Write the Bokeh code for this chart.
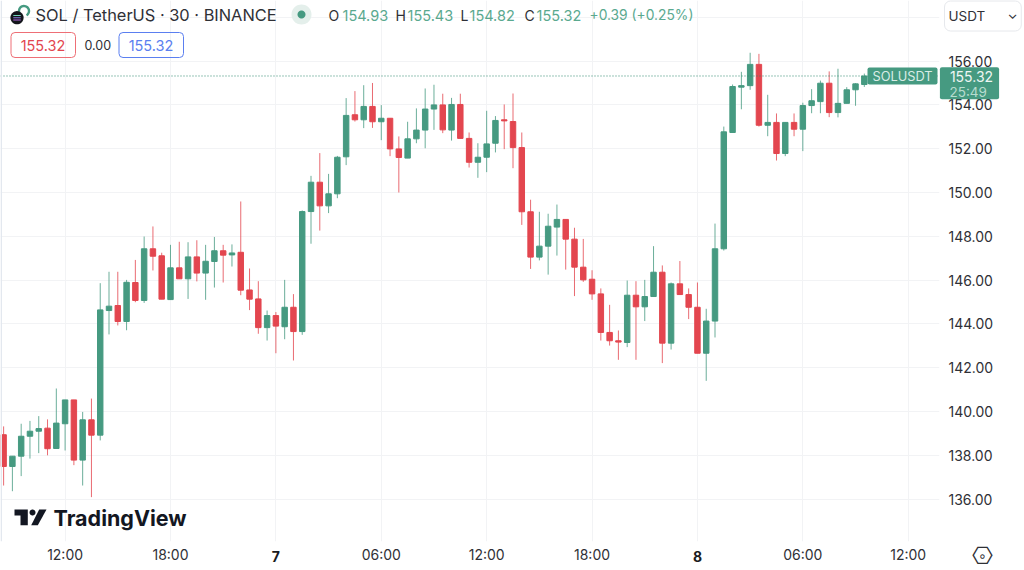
import numpy as np
from bokeh.embed import file_html
from bokeh.resources import INLINE
from bokeh.plotting import figure
from bokeh.models import (Range1d, FixedTicker, LinearAxis, Label, BoxAnnotation,
                          PolyAnnotation, ColumnDataSource, Grid)

opens = [138.94,137.49,137.96,138.87,139.10,139.24,138.31,139.44,140.53,137.78,139.62,138.92,
 144.61,144.84,144.11,145.89,145.07,147.43,147.11,145.11,146.56,146.06,147.06,146.32,146.85,147.34,147.15,147.27,145.55,145.14,143.83,144.38,143.87,144.76,143.65,
 149.13,150.47,149.39,149.94,
 151.63,153.55,153.32,153.93,153.23,153.39,151.99,151.57,152.45,152.85,153.81,154.00,152.85,154.02,152.47,151.38,151.61,152.25,153.32,153.24,152.05,
 149.12,147.05,147.55,148.42,148.77,147.87,146.59,146.04,145.37,143.61,143.23,143.15,145.31,144.78,145.25,146.36,143.12,145.83,145.34,144.76,142.66,144.13,147.43,
 152.74,154.81,154.88,155.85,153.07,153.20,151.78,153.20,152.89,153.97,154.15,154.99,153.65,154.07,154.69,154.93]
closes = [137.49,137.96,138.87,139.10,139.22,138.30,139.47,140.53,137.78,139.62,138.92,144.64,
 144.81,144.11,145.90,145.07,147.43,147.09,145.13,146.56,146.06,147.06,146.32,146.86,147.34,147.14,147.24,145.54,145.13,143.83,144.38,143.90,144.76,143.65,149.13,
 150.47,149.39,149.94,151.61,
 153.52,153.32,153.93,153.23,153.39,151.99,151.60,152.45,152.85,153.81,154.00,152.86,154.02,152.47,151.38,151.61,152.22,153.29,153.27,152.05,149.12,
 147.05,147.55,148.46,148.77,147.87,146.59,146.01,145.37,143.61,143.23,143.17,145.31,144.78,145.25,146.36,143.12,145.83,145.34,144.76,142.66,144.13,147.43,152.77,
 154.84,154.88,155.85,153.07,153.20,151.78,153.20,152.89,153.97,154.19,154.99,153.65,154.07,154.69,154.96,155.32]
highs = [139.32,137.96,139.44,139.57,139.79,139.64,141.05,140.53,140.53,139.98,140.59,145.86,
 146.38,146.38,146.01,146.92,147.99,148.45,147.25,147.61,147.75,147.73,147.82,147.61,147.97,147.61,147.63,149.59,146.53,145.95,144.61,144.54,146.01,145.36,149.18,
 150.76,151.80,150.85,151.67,
 154.31,154.63,154.90,155.00,153.99,153.39,152.56,153.23,153.84,154.75,154.92,154.51,154.32,154.51,152.74,152.25,153.73,153.49,154.02,154.52,152.74,
 149.67,149.12,149.03,149.45,148.77,148.39,147.88,146.45,145.62,144.87,143.70,145.98,145.95,146.01,147.55,146.67,145.89,146.87,145.62,145.89,144.69,148.58,153.01,
 154.93,155.51,156.38,156.33,154.46,153.61,153.20,153.61,154.10,154.72,155.11,155.53,155.65,154.81,154.99,155.43]
lows = [136.62,136.36,137.05,137.85,138.10,138.00,138.31,138.22,137.55,136.62,136.09,138.68,
 143.52,143.93,143.71,144.99,144.96,146.44,145.13,145.10,146.06,145.14,145.94,145.10,145.66,145.89,146.62,145.31,144.63,143.55,143.24,142.66,143.30,142.33,143.50,
 147.66,148.26,149.06,149.74,
 151.25,153.24,152.94,152.95,152.39,151.66,150.00,151.57,152.25,152.02,152.86,152.71,152.37,152.47,151.14,150.67,150.93,151.83,151.98,151.11,148.52,
 146.51,146.90,146.25,147.12,146.48,145.27,145.92,145.10,143.24,143.01,142.36,142.94,142.36,144.13,145.25,142.21,142.83,145.34,144.22,142.66,141.40,143.38,147.35,
 152.74,153.80,154.69,153.01,152.57,151.46,151.66,152.57,151.89,153.62,153.62,153.44,153.43,154.07,153.96,154.82]
first_bar = -7            # bars are counted from the first 12:00 tick
time_ticks = [0, 12, 24, 36, 48, 60, 72, 84, 96]
time_labels = ["12:00", "18:00", "7", "06:00", "12:00", "18:00", "8", "06:00", "12:00"]
bold_labels = {"7", "8"}
price_ticks = [136, 138, 140, 142, 144, 146, 148, 150, 152, 154, 156, 158]
last_price = 155.32

GREEN, RED, BLUE, INK, GRID = "#469a81", "#e3464f", "#5b7ff0", "#2f3036", "#f2f3f5"
FONT = "Inter"
W, H = 1024, 570
FRAME_H = 541
X0, X1 = -7.355, 99.56

p = figure(width=W, height=H, frame_width=939, frame_height=FRAME_H, min_border=0,
           min_border_right=85, min_border_bottom=29,
           x_range=Range1d(X0, X1), y_range=Range1d(134.064, 158.767),
           x_axis_type=None, y_axis_type=None, toolbar_location=None,
           output_backend="svg", margin=0, outline_line_color=None,
           background_fill_color="white", border_fill_color="white")

x_ax = LinearAxis(ticker=FixedTicker(ticks=time_ticks),
                  major_label_overrides={t: ("" if l in bold_labels else l) for t, l in zip(time_ticks, time_labels)})
y_ax = LinearAxis(ticker=FixedTicker(ticks=price_ticks),
                  major_label_overrides={t: ("" if t == 158 else f"{t:.2f}") for t in price_ticks})
for ax in (x_ax, y_ax):
    ax.axis_line_color = None
    ax.major_tick_line_color = None
    ax.minor_tick_line_color = None
    ax.major_tick_in = 0
    ax.major_tick_out = 0
    ax.major_label_text_font = FONT
    ax.major_label_text_font_size = "14px"
    ax.major_label_text_color = INK
x_ax.major_label_standoff = 4
y_ax.major_label_standoff = 9
p.add_layout(x_ax, "below")
p.add_layout(y_ax, "right")
p.add_layout(Grid(dimension=0, ticker=FixedTicker(ticks=time_ticks), grid_line_color=GRID, grid_line_width=1))
p.add_layout(Grid(dimension=1, ticker=FixedTicker(ticks=price_ticks), grid_line_color=GRID, grid_line_width=1))

x = np.arange(first_bar, first_bar + len(opens))
colors = [GREEN if c >= o else RED for o, c in zip(opens, closes)]
src = ColumnDataSource(dict(x=x, o=opens, c=closes, h=highs, l=lows, col=colors))
p.segment("x", "h", "x", "l", color="col", source=src, line_width=1, line_alpha=0.8)
p.vbar("x", width=0.62, top="o", bottom="c", fill_color="col", line_color="col", line_width=1, source=src)

p.segment([X0], [last_price], [X1], [last_price], line_color="#2f8a70", line_width=1, line_dash="1 2")


def text(t, x_, y_, size, color=INK, align="left", style="normal", **kw):
    p.add_layout(Label(x=x_, y=y_, x_units="canvas", y_units="canvas", text=t, text_font=FONT,
                       text_font_size=f"{size}px", text_color=color, text_align=align,
                       text_baseline="middle", text_font_style=style, **kw), "right")


def box(l, r, t, b, fill=None, line=None, radius=3):
    p.add_layout(BoxAnnotation(left=l, right=r, top=t, bottom=b, left_units="canvas", right_units="canvas",
                               top_units="canvas", bottom_units="canvas",
                               fill_color=fill or "white", fill_alpha=1 if fill else 0,
                               line_color=line or fill, line_alpha=1 if line else 0, line_width=1,
                               border_radius=radius), "right")


def poly(px, py, fill=None, line=None, lw=1):
    p.add_layout(PolyAnnotation(xs=list(px), ys=list(py), xs_units="canvas", ys_units="canvas",
                                fill_color=fill or "white", fill_alpha=1 if fill else 0,
                                line_color=line or fill, line_alpha=1 if line else 0, line_width=lw), "right")


def circle(cx, cy, r, fill=None, line=None, lw=1):
    a = np.linspace(0, 2 * np.pi, 37)[:-1]
    poly(cx + r * np.cos(a), cy + r * np.sin(a), fill, line, lw)


def arc(cx, cy, r0, r1, a0, a1, fill):
    a = np.radians(np.linspace(a0, a1, 25))
    poly(np.r_[cx + r1 * np.cos(a), cx + r0 * np.cos(a[::-1])],
         np.r_[cy + r1 * np.sin(a), cy + r0 * np.sin(a[::-1])], fill)


# left edge of the pane
box(0, 1.5, 0, 541, fill="#e3e8ef", radius=0)

# symbol icon
arc(23.5, 10.5, 3.8, 6.2, -200, 60, GREEN)
circle(16.5, 17.2, 6.6, fill="#14161c")
for dy, c in ((-2.2, "#6fd3b8"), (0, "#8a7be0"), (2.2, "#b56be0")):
    poly([12.8, 20.2, 20.2, 12.8], [17.2 + dy - .5, 17.2 + dy - .5, 17.2 + dy + .5, 17.2 + dy + .5], fill=c)

text("SOL / TetherUS · 30 · BINANCE", 35, 14.5, 16.4)
circle(301, 14, 10, fill="#e4efeb")
circle(301, 14, 4, fill=GREEN)
SOFT_GREEN = "#5aa98f"
for letter, lx, val, vx in (("O", 328, "154.93", 342), ("H", 395, "155.43", 407),
                            ("L", 460, "154.82", 469), ("C", 524, "155.32", 536)):
    text(letter, lx, 14.5, 14)
    text(val, vx, 14.5, 14.5, SOFT_GREEN)
text("+0.39 (+0.25%)", 589, 14.5, 13.8, SOFT_GREEN)

box(10.5, 75, 32, 57, line="#ee6f76", radius=4)
text("155.32", 42.5, 44.5, 14.5, RED, "center")
text("0.00", 84, 44.5, 12.5, INK)
box(118.5, 183, 32, 57, line=BLUE, radius=4)
text("155.32", 150.5, 44.5, 14.5, BLUE, "center")

# currency button: the label's own border draws outside the plot frame
text("USDT", 944, 15.5, 13.5, padding=(4, 36, 7, 7), border_line_color="#e6e8ec", border_radius=6,
     background_fill_color="white")
text("⌄", 1012, 13.5, 13, INK, "center")

# price tags
box(867, 937, 67, 84, fill=GREEN, radius=2)
text("SOLUSDT", 902, 75.5, 12.8, "#d9ece6", "center")
text("155.32", 969, 82.75, 14, "#eef6f3", "center", padding=(10, 6, 4, 17),
     background_fill_color=GREEN, border_radius=2)
text("25:49", 949, 91, 13.5, "#b7dccf")

# bold day labels on the time scale
for t, l in zip(time_ticks, time_labels):
    if l in bold_labels:
        p.add_layout(Label(x=t, y=555.5, x_units="data", y_units="canvas", text=l, text_font=FONT,
                           text_font_size="14px", text_font_style="bold", text_color="#1a1b20",
                           text_align="center", text_baseline="middle"), "right")

# TradingView mark
LOGO = "#131722"
poly([14, 27.3, 27.3, 20, 20, 14], [509, 509, 524.7, 524.7, 515, 515], fill=LOGO)
circle(32, 512, 3, fill=LOGO)
poly([38.7, 46, 37.3, 30.7], [509, 509, 524.7, 524.7], fill=LOGO)
text("TradingView", 53, 517, 21.5, LOGO, style="bold")

# scale settings icon
p.add_layout(Label(x=982, y=555, x_units="canvas", y_units="canvas", text="⎔", text_font="DejaVu Sans",
                   text_font_size="24px", text_color=INK, text_align="center", text_baseline="middle"), "right")
p.add_layout(Label(x=982, y=555, x_units="canvas", y_units="canvas", text="∘", text_font="DejaVu Sans",
                   text_font_size="14px", text_color=INK, text_align="center", text_baseline="middle"), "right")

open("out.html", "w").write(file_html(p, INLINE))
